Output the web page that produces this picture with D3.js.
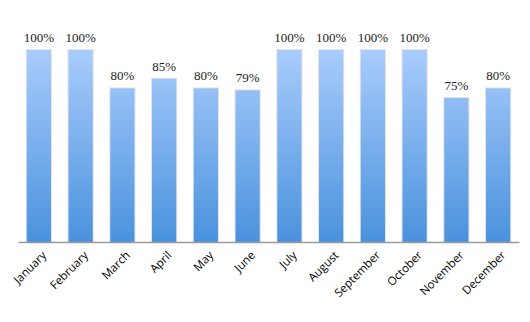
<!DOCTYPE html>
<html>
<head>
<meta charset="utf-8">
<script src="https://cdn.jsdelivr.net/npm/d3@7"></script>
<style>
	body { margin: 0; background: #fff; }
	.x.axis text { font-family: 'Open Sans', sans-serif; font-size: 11.5px; fill: #000; }
	.value-label { font-family: 'Liberation Serif', serif; font-size: 13px; fill: #222; }
</style>
</head>
<body>
<div id="chart"></div>
<script>
var months = ['January', 'February', 'March', 'April', 'May', 'June', 'July',
	'August', 'September', 'October', 'November', 'December'];
var values = [100, 100, 80, 85, 80, 79, 100, 100, 100, 100, 75, 80];

var margin = { top: 50, right: 11, bottom: 80, left: 18 };
var width = 530 - margin.left - margin.right;
var height = 322 - margin.top - margin.bottom;

var svg = d3.select('#chart').append('svg')
	.attr('width', 530)
	.attr('height', 322)
	.append('g')
	.attr('transform', 'translate(' + margin.left + ',' + margin.top + ')');

var defs = svg.append('defs');
var grad = defs.append('linearGradient')
	.attr('id', 'barGrad')
	.attr('x1', 0).attr('x2', 0)
	.attr('gradientUnits', 'userSpaceOnUse')
	.attr('y1', 0).attr('y2', height);
grad.append('stop').attr('offset', '0%').attr('stop-color', '#a9ccfc');
grad.append('stop').attr('offset', '100%').attr('stop-color', '#4a92dd');

var x = d3.scaleBand()
	.domain(months)
	.range([0, width])
	.paddingInner(0.42)
	.paddingOuter(0.21);

var y = d3.scaleLinear()
	.domain([0, 100])
	.range([height, 0]);

// faint shadow behind bars
svg.selectAll('.shadow')
	.data(values)
	.enter().append('rect')
	.attr('class', 'shadow')
	.attr('x', function(d, i) { return x(months[i]) - 1; })
	.attr('y', function(d) { return y(d) - 1; })
	.attr('width', x.bandwidth() + 2)
	.attr('height', function(d) { return height - y(d) + 1; })
	.style('fill', '#e4e4e4');

svg.selectAll('.bar')
	.data(values)
	.enter().append('rect')
	.attr('class', 'bar')
	.attr('x', function(d, i) { return x(months[i]); })
	.attr('y', function(d) { return y(d); })
	.attr('width', x.bandwidth())
	.attr('height', function(d) { return height - y(d); })
	.style('fill', 'url(#barGrad)');

svg.selectAll('.value-label')
	.data(values)
	.enter().append('text')
	.attr('class', 'value-label')
	.attr('x', function(d, i) { return x(months[i]) + x.bandwidth() / 2; })
	.attr('y', function(d) { return y(d) - 8; })
	.style('text-anchor', 'middle')
	.text(function(d) { return d + '%'; });

var xAxis = d3.axisBottom(x).tickSize(0).tickPadding(10);

var gx = svg.append('g')
	.attr('class', 'x axis')
	.attr('transform', 'translate(0,' + height + ')')
	.call(xAxis);

gx.select('.domain').attr('stroke', '#9a9a9a').attr('stroke-width', 1.3);

gx.selectAll('text')
	.style('text-anchor', 'end')
	.attr('dx', '-0.35em')
	.attr('dy', '0.5em')
	.attr('transform', 'rotate(-45)');
</script>
</body>
</html>
